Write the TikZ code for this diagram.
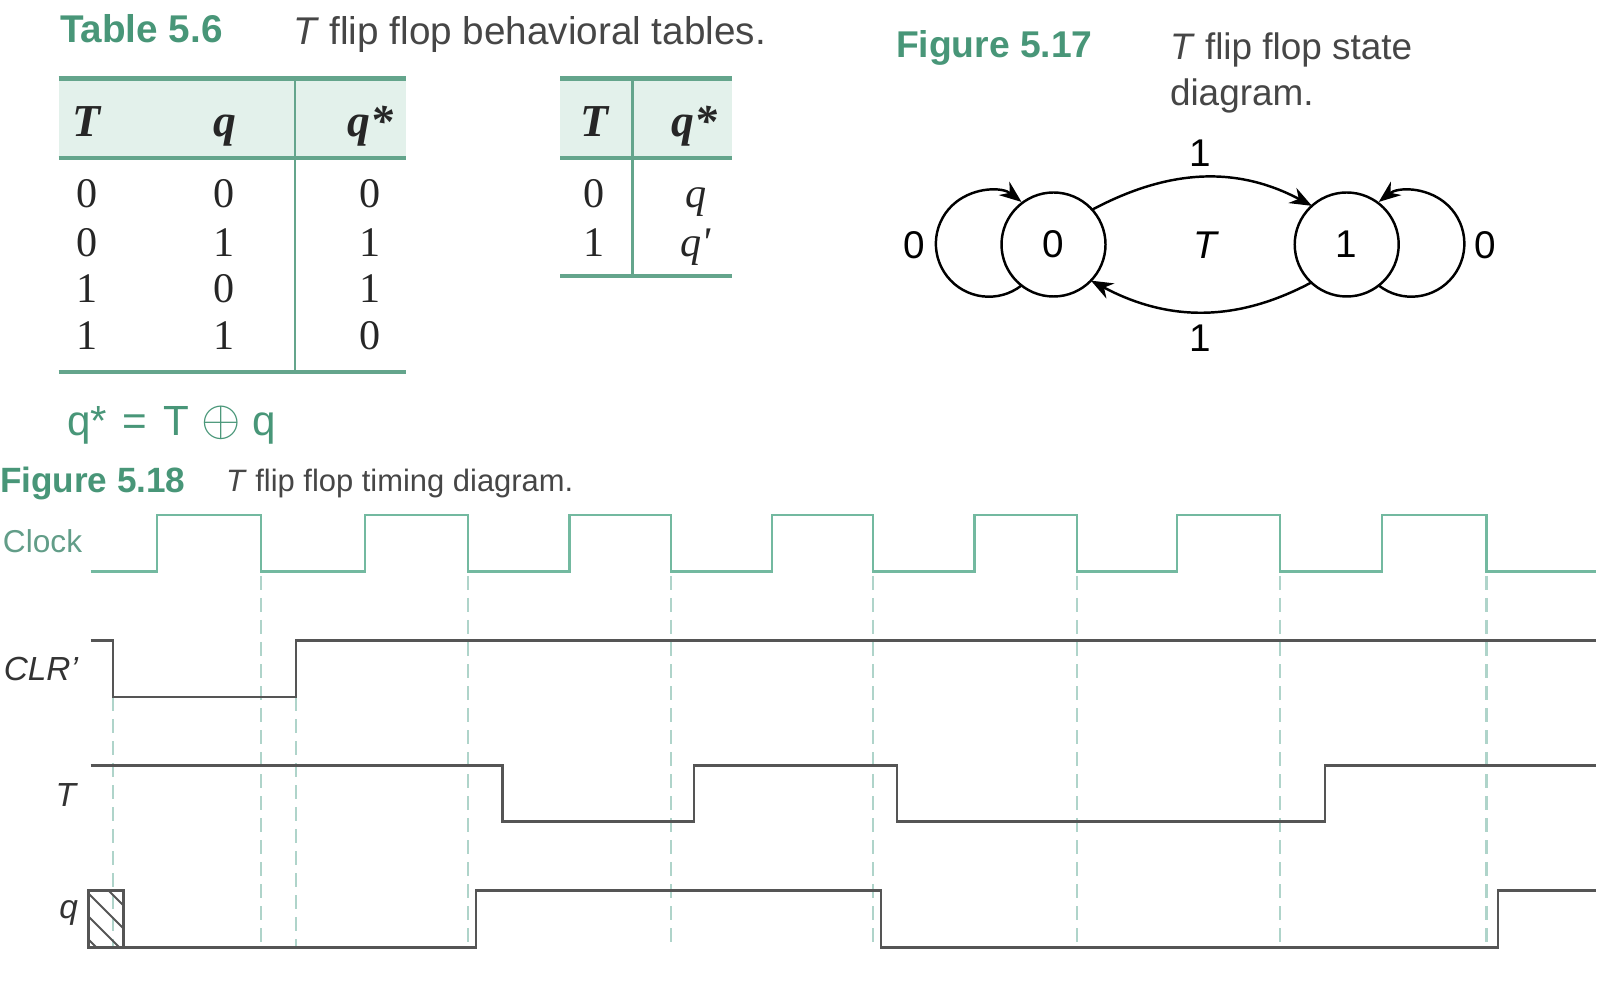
\documentclass[tikz,border=0pt]{standalone}
\usepackage{fontspec}
\usepackage{tikz}
\usepackage{xcolor}
\usetikzlibrary{arrows.meta}
\setmainfont{Liberation Sans}
\newfontfamily\tabfont{Liberation Serif}
\definecolor{capgreen}{RGB}{72,150,120}
\definecolor{rulegreen}{RGB}{100,165,140}
\definecolor{headfill}{RGB}{227,241,235}
\definecolor{clkgreen}{RGB}{115,185,160}
\definecolor{dashgreen}{RGB}{175,212,202}
\definecolor{wavegray}{RGB}{85,85,85}
\definecolor{captext}{RGB}{70,70,70}

\begin{document}
\begin{tikzpicture}[x=1cm,y=1cm,
  every node/.style={inner sep=0pt,outer sep=0pt},
  figlabel/.style={font=\fontsize{#1}{#1}\selectfont\bfseries,text=capgreen,anchor=base west},
  figtitle/.style={font=\fontsize{#1}{#1}\selectfont,text=captext,anchor=base west},
  tabcell/.style={font=\fontsize{12}{14}\selectfont\tabfont,text=black!85,anchor=base},
  tabhead/.style={font=\fontsize{13}{15}\selectfont\tabfont\bfseries\itshape,text=black!85,anchor=base},
  state/.style={circle,draw,line width=0.7pt,minimum size=1.04cm,font=\fontsize{11}{13}\selectfont},
  trans/.style={line width=0.7pt,-{Stealth[length=2.2mm,width=1.7mm]}},
  edgelabel/.style={font=\fontsize{11}{13}\selectfont},
  clockwave/.style={clkgreen,line width=0.8pt},
  wave/.style={wavegray,line width=0.8pt},
  edgemark/.style={dashgreen,line width=0.6pt,dash pattern=on 1.4mm off 0.8mm},
  siglabel/.style={font=\fontsize{9.5}{11}\selectfont\itshape,text=black!80,anchor=base east}]
\useasboundingbox (0,0) rectangle (16.12,-10);

% Table 5.6
\node[figlabel=11] (tablab) at (0.60,-0.43) {Table 5.6};
\node[figtitle=11] (tabtitle) at (2.93,-0.45) {\textit{T} flip flop behavioral tables.};

\fill[headfill] (0.587,-0.77) rectangle (4.056,-1.58);
\draw[rulegreen,line width=1.6pt] (0.587,-0.785) -- (4.056,-0.785);
\draw[rulegreen,line width=0.9pt] (0.587,-1.58) -- (4.056,-1.58);
\draw[rulegreen,line width=0.9pt] (0.587,-3.72) -- (4.056,-3.72);
\draw[rulegreen,line width=0.7pt] (2.95,-0.77) -- (2.95,-3.72);
\node[tabhead] (h1t) at (0.867,-1.37) {T};
\node[tabhead] (h1q) at (2.245,-1.37) {q};
\node[tabhead] (h1n) at (3.70,-1.37) {q*};
\node[tabcell] (a1) at (0.867,-2.08) {0};
\node[tabcell] (a2) at (2.245,-2.08) {0};
\node[tabcell] (a3) at (3.70,-2.08) {0};
\node[tabcell] (b1) at (0.867,-2.57) {0};
\node[tabcell] (b2) at (2.245,-2.57) {1};
\node[tabcell] (b3) at (3.70,-2.57) {1};
\node[tabcell] (c1) at (0.867,-3.03) {1};
\node[tabcell] (c2) at (2.245,-3.03) {0};
\node[tabcell] (c3) at (3.70,-3.03) {1};
\node[tabcell] (d1) at (0.867,-3.50) {1};
\node[tabcell] (d2) at (2.245,-3.50) {1};
\node[tabcell] (d3) at (3.70,-3.50) {0};

\fill[headfill] (5.60,-0.77) rectangle (7.32,-1.58);
\draw[rulegreen,line width=1.6pt] (5.60,-0.785) -- (7.32,-0.785);
\draw[rulegreen,line width=0.9pt] (5.60,-1.58) -- (7.32,-1.58);
\draw[rulegreen,line width=0.9pt] (5.60,-2.76) -- (7.32,-2.76);
\draw[rulegreen,line width=0.7pt] (6.326,-0.77) -- (6.326,-2.76);
\node[tabhead] (h2t) at (5.944,-1.37) {T};
\node[tabhead] (h2n) at (6.94,-1.37) {q*};
\node[tabcell] (e1) at (5.944,-2.08) {0};
\node[tabcell] (e2) at (6.96,-2.08) {\textit{q}};
\node[tabcell] (f1) at (5.944,-2.57) {1};
\node[tabcell] (f2) at (6.96,-2.57) {\textit{q'}};

\node[font=\fontsize{12}{14}\selectfont,text=capgreen,anchor=base west] (xoreq) at (0.67,-4.36)
  {q*\hspace{1.6mm}=\hspace{1.6mm}T\hspace{1.2mm}{\fontsize{15}{15}\selectfont$\oplus$}\hspace{1.2mm}q};

% Figure 5.17
\node[figlabel=10.6] (statelab) at (8.96,-0.58) {Figure 5.17};
\node[figtitle=10.5] (statetitle) at (11.70,-0.60) {\textit{T} flip flop state};
\node[figtitle=10.5] (statetitle2) at (11.70,-1.06) {diagram.};

\node[state] (s0) at (10.535,-2.445) {0};
\node[state] (s1) at (13.467,-2.445) {1};
\draw[trans] (s0.232) arc[start angle=-52,end angle=-308,radius=0.53];
\draw[trans] (s1.308) arc[start angle=232,end angle=488,radius=0.53];
\draw[trans] (s0.42) to[out=28,in=152] (s1.132);
\draw[trans] (s1.227) to[out=208,in=332] (s0.316);
\node[edgelabel] (up1) at (12.00,-1.53) {1};
\node[edgelabel] (dn1) at (12.00,-3.38) {1};
\node[edgelabel] (lp0) at (9.14,-2.45) {0};
\node[edgelabel] (rp0) at (14.85,-2.45) {0};
\node[edgelabel,font=\fontsize{11}{13}\selectfont\itshape] (tin) at (12.05,-2.45) {T};

% Figure 5.18
\node[figlabel=10] (timelab) at (0.0,-4.93) {Figure 5.18};
\node[figtitle=8.8] (timetitle) at (2.26,-4.92) {\textit{T} flip flop timing diagram.};

\draw[edgemark] (1.13,-6.97) -- (1.13,-9.48);
\draw[edgemark] (2.61,-5.76) -- (2.61,-9.48);
\draw[edgemark] (2.96,-6.97) -- (2.96,-9.48);
\draw[edgemark] (4.68,-5.76) -- (4.68,-9.48);
\draw[edgemark] (6.71,-5.76) -- (6.71,-9.48);
\draw[edgemark] (8.73,-5.76) -- (8.73,-9.48);
\draw[edgemark] (10.77,-5.76) -- (10.77,-9.48);
\draw[edgemark] (12.80,-5.76) -- (12.80,-9.48);
\draw[edgemark] (14.865,-5.76) -- (14.865,-9.48);

\node[font=\fontsize{9}{11}\selectfont,text=clkgreen!85!black,anchor=base west] (clklab) at (0.03,-5.53) {Clock};
\draw[clockwave] (0.905,-5.716) -- (1.57,-5.716) -- (1.57,-5.15) -- (2.61,-5.15) -- (2.61,-5.716)
  -- (3.65,-5.716) -- (3.65,-5.15) -- (4.68,-5.15) -- (4.68,-5.716)
  -- (5.695,-5.716) -- (5.695,-5.15) -- (6.71,-5.15) -- (6.71,-5.716)
  -- (7.72,-5.716) -- (7.72,-5.15) -- (8.73,-5.15) -- (8.73,-5.716)
  -- (9.745,-5.716) -- (9.745,-5.15) -- (10.77,-5.15) -- (10.77,-5.716)
  -- (11.77,-5.716) -- (11.77,-5.15) -- (12.80,-5.15) -- (12.80,-5.716)
  -- (13.82,-5.716) -- (13.82,-5.15) -- (14.865,-5.15) -- (14.865,-5.716) -- (15.955,-5.716);

\node[siglabel] (clrlab) at (0.78,-6.80) {CLR'};
\draw[wave] (0.905,-6.407) -- (1.13,-6.407) -- (1.13,-6.97) -- (2.96,-6.97) -- (2.96,-6.407) -- (15.955,-6.407);

\node[siglabel] (tlab) at (0.76,-8.06) {T};
\draw[wave] (0.905,-7.657) -- (5.027,-7.657) -- (5.027,-8.217) -- (6.94,-8.217) -- (6.94,-7.657)
  -- (8.97,-7.657) -- (8.97,-8.217) -- (13.25,-8.217) -- (13.25,-7.657) -- (15.955,-7.657);

\node[siglabel] (qlab) at (0.78,-9.18) {q};
\begin{scope}
\clip (0.884,-8.907) rectangle (1.234,-9.473);
\draw[wavegray,line width=0.6pt] (0.70,-8.52) -- (1.40,-9.22);
\draw[wavegray,line width=0.6pt] (0.70,-8.75) -- (1.40,-9.45);
\draw[wavegray,line width=0.6pt] (0.70,-8.98) -- (1.40,-9.68);
\draw[wavegray,line width=0.6pt] (0.70,-9.21) -- (1.40,-9.91);
\end{scope}
\draw[wave] (0.884,-8.907) rectangle (1.234,-9.473);
\draw[wave] (1.234,-9.473) -- (4.76,-9.473) -- (4.76,-8.907) -- (8.81,-8.907) -- (8.81,-9.473)
  -- (14.98,-9.473) -- (14.98,-8.907) -- (15.955,-8.907);
\end{tikzpicture}
\end{document}
